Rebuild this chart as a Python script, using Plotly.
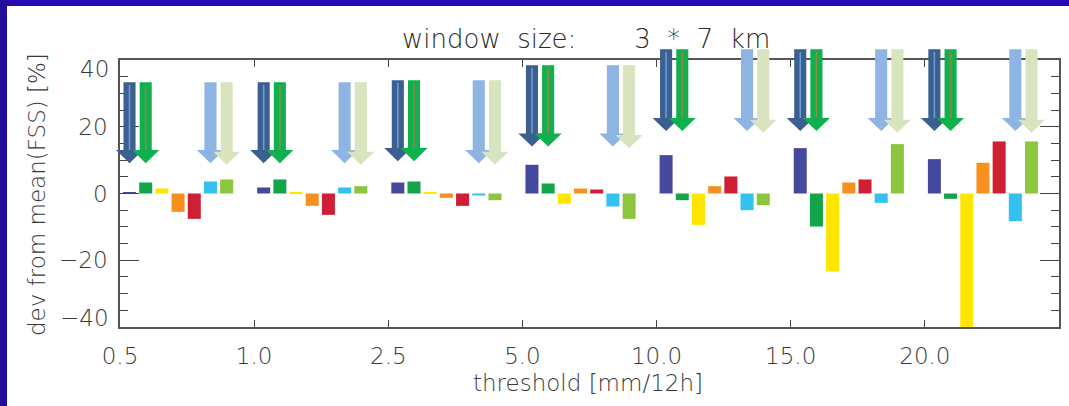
import numpy as np
import plotly.graph_objects as go

# threshold classes on the x axis
thresholds = ["0.5", "1.0", "2.5", "5.0", "10.0", "15.0", "20.0"]

# deviation of each member from mean(FSS) [%], one value per threshold
member_1 = [0.4, 1.8, 3.3, 8.6, 11.5, 13.6, 10.3]
member_2 = [3.3, 4.2, 3.6, 3.0, -2.0, -9.9, -1.6]
member_3 = [1.5, 0.4, 0.3, -3.1, -9.4, -23.4, -41.3]
member_4 = [-5.5, -3.7, -1.3, 1.5, 2.2, 3.3, 9.2]
member_5 = [-7.6, -6.4, -3.7, 1.2, 5.1, 4.2, 15.6]
member_6 = [3.6, 1.8, -0.6, -3.9, -5.0, -2.8, -8.3]
member_7 = [4.2, 2.2, -2.0, -7.6, -3.5, 14.8, 15.6]

members = [member_1, member_2, member_3, member_4, member_5, member_6, member_7]
bar_colors = ["#45499d", "#12a54a", "#ffe600", "#f7901e", "#cf1f35", "#33c1ee", "#8cc63f"]

# y tick values and labels
y_ticks = [-40, -20, 0, 20, 40]
y_tick_text = ["\u221240", "\u221220", "0", "20", "40"]

# highlight arrows: top and tip level (in %) for each threshold
arrow_top_pair_a = [33.3, 33.3, 33.9, 38.4, 43.2, 43.2, 43.2]
arrow_tip_pair_a = [9.1, 9.1, 9.7, 14.1, 18.7, 18.7, 18.7]
arrow_top_pair_b = [33.3, 33.3, 33.9, 38.4, 43.2, 43.2, 43.2]
arrow_tip_pair_b = [9.1, 9.1, 9.1, 14.1, 18.7, 18.7, 18.7]

X_RANGE = [0, 7]
Y_RANGE = [-40, 40]
W, H = 1069, 406
ML, MR, MT, MB = 120, 10, 60, 79
PW, PH = W - ML - MR, H - MT - MB

BAR_W = 0.097
BAR_PITCH = 0.1207
BAR_OFF0 = 0.071

groups = np.arange(len(thresholds))
fig = go.Figure()
for j, (vals, col) in enumerate(zip(members, bar_colors)):
    fig.add_trace(go.Bar(
        x=groups + BAR_OFF0 + j * BAR_PITCH, y=vals, width=BAR_W,
        marker=dict(color=col, line=dict(width=0)), hoverinfo="skip",
    ))


def xpaper(x):
    return (x - X_RANGE[0]) / (X_RANGE[1] - X_RANGE[0])


def ypaper(y):
    return (y - Y_RANGE[0]) / (Y_RANGE[1] - Y_RANGE[0])


def px_x(p):
    return (p - ML) / PW


def px_y(p):
    return (H - MB - p) / PH


SHAFT_HALF = 0.045
HEAD_HALF = 0.101
HEAD_LEN = 3.9

shapes = []


def add_arrow(cx, top, tip, color, stripe=None):
    neck = tip + HEAD_LEN
    pts = [(cx - SHAFT_HALF, top), (cx + SHAFT_HALF, top), (cx + SHAFT_HALF, neck),
           (cx + HEAD_HALF, neck), (cx, tip), (cx - HEAD_HALF, neck),
           (cx - SHAFT_HALF, neck)]
    path = "M " + " L ".join(f"{xpaper(a):.5f},{ypaper(b):.5f}" for a, b in pts) + " Z"
    shapes.append(dict(type="path", path=path, xref="paper", yref="paper",
                       fillcolor=color, line=dict(width=0), layer="above"))
    if stripe:
        shapes.append(dict(type="line", xref="paper", yref="paper",
                           x0=xpaper(cx), x1=xpaper(cx), y0=ypaper(top - 0.8), y1=ypaper(neck),
                           line=dict(color=stripe, width=1.6), layer="above"))


for g in groups:
    c = g + BAR_OFF0
    add_arrow(c + 0 * BAR_PITCH, arrow_top_pair_a[g], arrow_tip_pair_a[g], "#3b5f8e", "#6b9bd8")
    add_arrow(c + 1 * BAR_PITCH, arrow_top_pair_a[g], arrow_tip_pair_a[g], "#0fb14e", "#8e8a40")
    add_arrow(c + 5 * BAR_PITCH, arrow_top_pair_b[g], arrow_tip_pair_b[g], "#8eb4e3")
    add_arrow(c + 6 * BAR_PITCH, arrow_top_pair_b[g], arrow_tip_pair_b[g] - 0.5, "#d7e4bd")

# slide frame strips (top and left)
shapes.append(dict(type="rect", xref="paper", yref="paper", x0=px_x(0), x1=px_x(W),
                   y0=px_y(6), y1=px_y(0), fillcolor="#2a0ab4", line=dict(width=0), layer="above"))
shapes.append(dict(type="rect", xref="paper", yref="paper", x0=px_x(0), x1=px_x(7),
                   y0=px_y(H), y1=px_y(0), fillcolor="#22109a", line=dict(width=0), layer="above"))

FONT = "DejaVu Sans"
TXT = "#3a3a3a"
nb = "\u00a0"
tick_font = dict(family=FONT, size=23, color=TXT, weight=200)

axis_common = dict(showline=True, linecolor="#555555", linewidth=1.5, mirror="ticks",
                   showgrid=False, zeroline=False, tickcolor="#444444", tickwidth=1.2,
                   tickfont=tick_font)

# the end labels of the y axis sit just inside the frame
inner_labels = {}
for v, t in zip(y_ticks, y_tick_text):
    if v in (Y_RANGE[0], Y_RANGE[1]):
        inner_labels[v] = t
axis_labels = ["" if v in inner_labels else t for v, t in zip(y_ticks, y_tick_text)]

annotations = [
    dict(text=f"window{nb * 2}size:{nb * 7}3{nb * 2}*{nb * 2}7{nb * 2}km", xref="paper", yref="paper",
         x=px_x(586), y=px_y(39), xanchor="center", yanchor="middle", showarrow=False,
         font=dict(family=FONT, size=26, color="#2a2a2a", weight=200)),
    dict(text=f"threshold{nb}[mm/12h]", xref="paper", yref="paper",
         x=px_x(588), y=px_y(383), xanchor="center", yanchor="middle", showarrow=False,
         font=dict(family=FONT, size=23, color=TXT, weight=200)),
    dict(text=f"dev{nb}from{nb}mean(FSS){nb}[%]", xref="paper", yref="paper",
         x=px_x(37), y=px_y(195), xanchor="center", yanchor="middle", showarrow=False,
         textangle=-90, font=dict(family=FONT, size=23, color=TXT, weight=200)),
]
for v, t in inner_labels.items():
    annotations.append(dict(text=t, xref="paper", yref="y", x=px_x(111),
                            y=v - np.sign(v) * 2.6, xanchor="right", yanchor="middle",
                            showarrow=False, font=tick_font))

fig.update_layout(
    width=W, height=H, margin=dict(l=ML, r=MR, t=MT, b=MB, autoexpand=False),
    paper_bgcolor="white", plot_bgcolor="white", showlegend=False,
    barmode="overlay", shapes=shapes, annotations=annotations,
    font=dict(family=FONT, size=23, color=TXT),
    xaxis=dict(range=X_RANGE, tickmode="array", tickvals=list(groups), ticktext=thresholds,
               ticks="inside", ticklen=7, ticklabelstandoff=8, **axis_common),
    yaxis=dict(range=Y_RANGE, tickmode="array", tickvals=y_ticks, ticktext=axis_labels,
               ticks="inside", ticklen=19, ticklabelstandoff=6,
               minor=dict(dtick=5, ticks="inside", ticklen=8, tickcolor="#444444", showgrid=False),
               **axis_common),
)

fig.write_html("out.html")
